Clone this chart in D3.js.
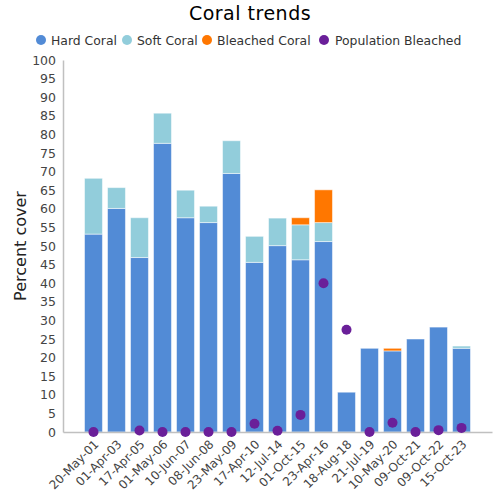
<!DOCTYPE html>
<html><head><meta charset="utf-8">
<script src="https://cdn.jsdelivr.net/npm/d3@7"></script>
<style>body{margin:0;background:#fff}svg{display:block}</style>
</head><body><svg id="c" width="500" height="500"></svg>
<script>
const categories = ["20-May-01","01-Apr-03","17-Apr-05","01-May-06","10-Jun-07","08-Jun-08","23-May-09","17-Apr-10","12-Jul-14","01-Oct-15","23-Apr-16","18-Aug-18","21-Jul-19","10-May-20","09-Oct-21","09-Oct-22","15-Oct-23"];
const hardCoral = [53.2,60.1,46.9,77.6,57.6,56.3,69.5,45.6,50.1,46.3,51.2,10.7,22.5,21.8,25.0,28.2,22.5];
const softCoral = [15.0,5.6,10.7,8.1,7.4,4.4,8.8,7.0,7.4,9.4,5.1,0,0,0,0,0,0.6];
const bleachedCoral = [0,0,0,0,0,0,0,0,0,1.9,8.8,0,0,0.7,0,0,0];
const populationBleached = [0,null,0.4,0,0,0,0,2.2,0.35,4.6,40.0,27.5,0,2.5,0,0.5,1.1];
const yTicks = d3.range(0,101,5);
const seriesNames = ["Hard Coral","Soft Coral","Bleached Coral","Population Bleached"];
const colors = ["#528bd6","#92cddb","#ff7700","#6a1f99"];

const svg = d3.select("#c");
const x = d3.scaleBand().domain(categories).range([63,492]).paddingInner(0.22).paddingOuter(0.935);
const y = d3.scaleLinear().domain([0,100]).range([432,60]);

// title
svg.append("text").attr("x",250).attr("y",20).attr("text-anchor","middle")
  .style("font-family","DejaVu Sans").style("font-size","19px").style("letter-spacing","0.5px").attr("fill","#000").text("Coral trends");

// legend
const legX = [41,127,207,324];
seriesNames.forEach((n,i)=>{
  svg.append("circle").attr("cx",legX[i]).attr("cy",40).attr("r",5).attr("fill",colors[i]);
  svg.append("text").attr("x",legX[i]+(i===3?11:10)).attr("y",44.5).style("font-family","DejaVu Sans")
    .style("font-size","12.4px").attr("fill","#333").text(n);
});

// stacked bars
const rows = categories.map((c,i)=>({cat:c,hard:hardCoral[i],soft:softCoral[i],bleached:bleachedCoral[i]}));
const stack = d3.stack().keys(["hard","soft","bleached"])(rows);
stack.forEach((layer,li)=>{
  svg.append("g").selectAll("rect").data(layer.filter(d=>d[1]-d[0]>0)).join("rect")
    .attr("x",d=>x(d.data.cat)).attr("width",x.bandwidth())
    .attr("y",d=>y(d[1])).attr("height",d=>y(d[0])-y(d[1]))
    .attr("fill",colors[li]).attr("stroke","#fff").attr("stroke-opacity",0.5).attr("stroke-width",1);
});

// axes
const yAxis = svg.append("g").attr("transform","translate(63,0)")
  .call(d3.axisLeft(y).tickValues(yTicks).tickSize(0).tickPadding(7));
yAxis.select(".domain").attr("stroke","#c0c0c0").attr("stroke-width",1.5);
yAxis.selectAll("text").style("font-family","DejaVu Sans").style("font-size","12.5px").attr("fill","#444");

const xAxis = svg.append("g").attr("transform","translate(0,432)")
  .call(d3.axisBottom(x).tickSize(0).tickPadding(0));
xAxis.select(".domain").attr("stroke","#c0c0c0").attr("stroke-width",1.5);
xAxis.selectAll("text").style("font-family","DejaVu Sans").style("font-size","12px").attr("fill","#444")
  .attr("text-anchor","end").attr("dy",0).attr("dx",0)
  .attr("transform","translate(6,13) rotate(-45)");

// dots
svg.append("g").selectAll("circle").data(categories.map((c,i)=>({c,v:populationBleached[i]})).filter(d=>d.v!==null))
  .join("circle").attr("cx",d=>x(d.c)+x.bandwidth()/2).attr("cy",d=>y(d.v)).attr("r",5).attr("fill",colors[3]);

// y title
svg.append("text").attr("transform","translate(26,246) rotate(-90)").attr("text-anchor","middle")
  .style("font-family","DejaVu Sans").style("font-size","16px").attr("fill","#222").text("Percent cover");
</script></body></html>
